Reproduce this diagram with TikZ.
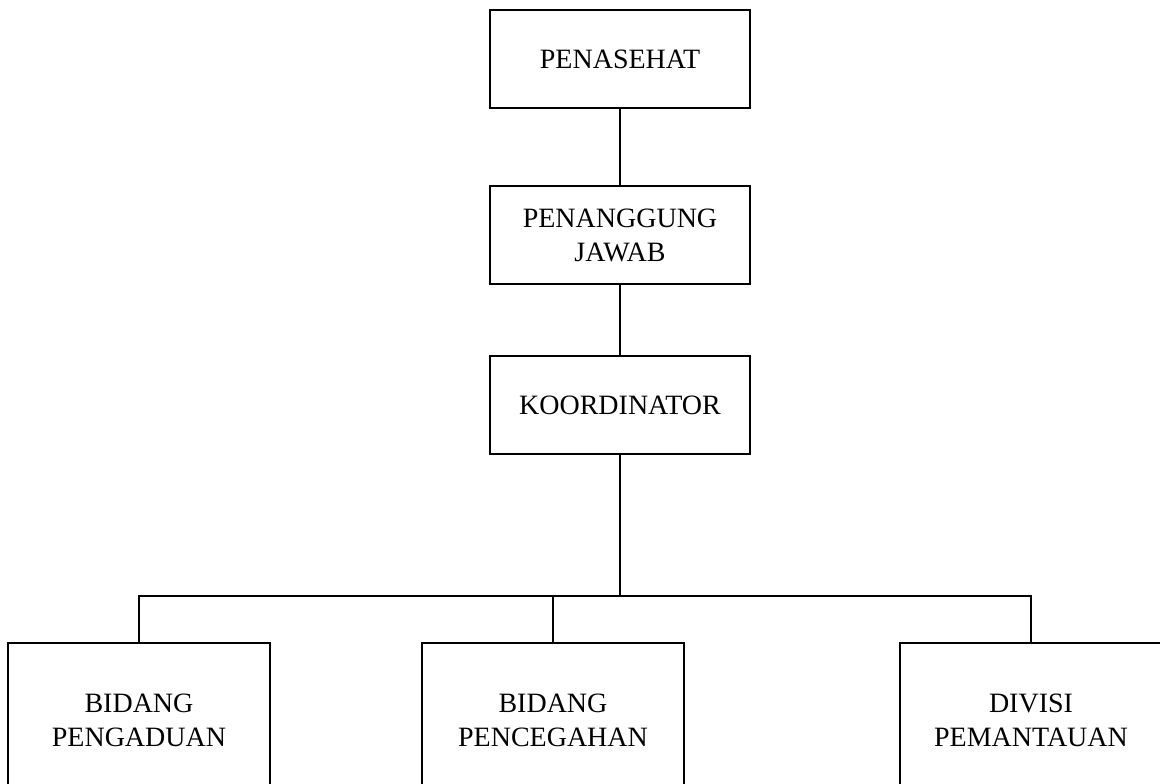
\documentclass[tikz,border=0pt]{standalone}
\usepackage{fontspec}
\setmainfont{Liberation Serif}
\usepackage{tikz}
\usetikzlibrary{positioning}

\begin{document}
\begin{tikzpicture}[
    x=0.5pt, y=-0.5pt,
    every node/.style={align=center, font=\fontsize{14}{17}\selectfont},
    box/.style={rectangle, draw, line width=0.9pt, minimum width=130pt, minimum height=49pt, inner sep=2pt},
    lowbox/.style={box, minimum width=131pt, minimum height=77pt},
    line/.style={line width=0.7pt}
]
\useasboundingbox (0,0) rectangle (1160,783);
\clip (0,0) rectangle (1160,783);

% Nodes
\node[box] (penasehat) at (620,59) {PENASEHAT};
\node[box] (pj) at (620,235) {PENANGGUNG\\JAWAB};
\node[box] (koord) at (620,405) {KOORDINATOR};
\node[lowbox] (pengaduan) at (139,720) {BIDANG\\PENGADUAN};
\node[lowbox] (pencegahan) at (553,720) {BIDANG\\PENCEGAHAN};
\node[lowbox] (pemantauan) at (1031,720) {DIVISI\\PEMANTAUAN};
\coordinate (bus) at (620,596);

% Lines
\draw[line] (penasehat) -- (pj);
\draw[line] (pj) -- (koord);
\draw[line] (koord) -- (bus);
\draw[line] (bus) -| (pengaduan.north);
\draw[line] (bus) -| (pencegahan.north);
\draw[line] (bus) -| (pemantauan.north);

\end{tikzpicture}
\end{document}
